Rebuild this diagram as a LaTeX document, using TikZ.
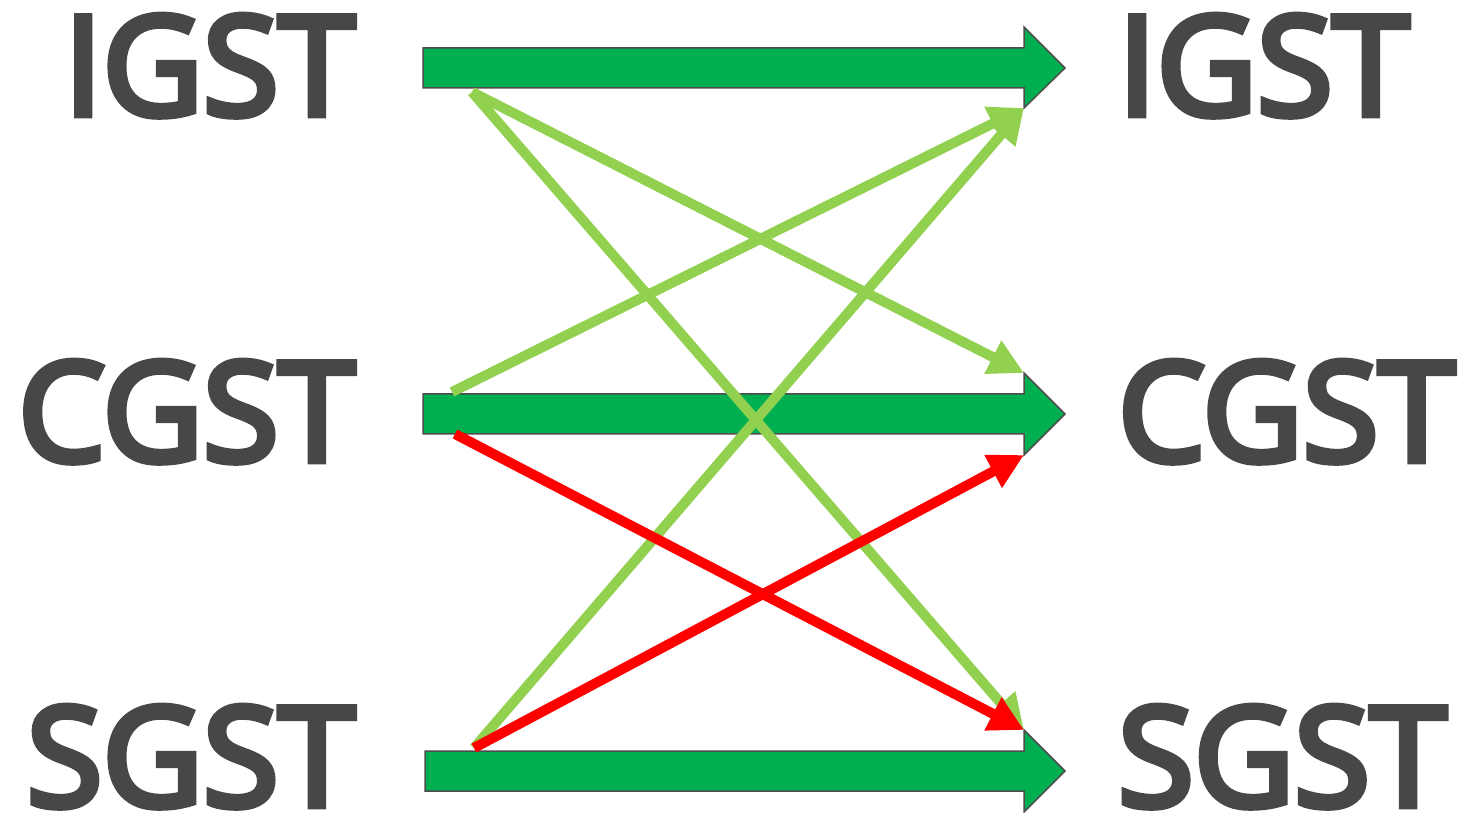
\documentclass[tikz,border=0pt]{standalone}
\usepackage{fontspec}
\setmainfont{Open Sans}
\newfontfamily\semib[FakeBold=5]{Open Sans}
\usetikzlibrary{arrows.meta}
\definecolor{txt}{HTML}{474747}
\definecolor{dkgreen}{HTML}{00B050}
\definecolor{ltgreen}{HTML}{92D050}
\definecolor{myred}{HTML}{FF0000}
\definecolor{edge}{HTML}{4D4D4D}
\tikzset{
  lbl/.style={font=\semib\fontsize{138}{138}\selectfont, text=txt, inner sep=0pt, outer sep=0pt},
  blockarrow/.style={fill=dkgreen, draw=edge, line width=1.5pt, line join=miter},
  flow/.style={line width=10pt, -{Triangle[length=35pt,width=35pt]}},
  okflow/.style={flow, draw=ltgreen},
  badflow/.style={flow, draw=myred},
}
\begin{document}
\begin{tikzpicture}[x=1pt,y=1pt]
\useasboundingbox (0,0) rectangle (1468,812);
% labels
\node[lbl, anchor=base east] (li) at (355,697) {IGST};
\node[lbl, anchor=base east] (lc) at (355,351) {CGST};
\node[lbl, anchor=base east] (ls) at (355,6) {SGST};
\node[lbl, anchor=base west] (ri) at (1118,697) {IGST};
\node[lbl, anchor=base west] (rc) at (1118,351) {CGST};
\node[lbl, anchor=base west] (rs) at (1118,6) {SGST};
% block arrow corners
\coordinate (iH) at (1024,704);
\coordinate (cHt) at (1024,439);
\coordinate (cHb) at (1024,357);
\coordinate (sHt) at (1024,82);
% block arrows
\draw[blockarrow] (423,764) -- (1024,764) -- (1024,785) -- (1065,744) -- (iH) -- (1024,724) -- (423,724) -- cycle;
\draw[blockarrow] (423,418) -- (1024,418) -- (cHt) -- (1065,398) -- (cHb) -- (1024,378) -- (423,378) -- cycle;
\draw[blockarrow] (425,61) -- (1024,61) -- (sHt) -- (1065,41) -- (1024,0) -- (1024,21) -- (425,21) -- cycle;
% start points
\coordinate (iS) at (472,720);
\coordinate (cS1) at (452,420);
\coordinate (cS2) at (455,378);
\coordinate (sS) at (474,64);
% flows
\draw[okflow] (iS) -- (cHt);
\draw[okflow] (iS) -- (sHt);
\draw[okflow] (cS1) -- (iH);
\draw[okflow] (sS) -- (iH);
\draw[badflow] (cS2) -- (sHt);
\draw[badflow] (sS) -- (cHb);
\end{tikzpicture}
\end{document}
